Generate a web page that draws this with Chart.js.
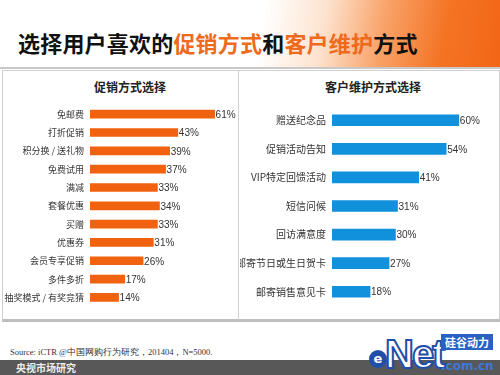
<!DOCTYPE html>
<html>
<head>
<meta charset="utf-8">
<script src="https://cdn.jsdelivr.net/npm/chart.js@4.4.1/dist/chart.umd.min.js"></script>
<style>
    body { margin: 0; width: 500px; height: 375px; position: relative; overflow: hidden; background: #fff;
           font-family: "Noto Sans CJK SC", "Noto Sans", sans-serif; }
    #header { position: absolute; left: 0; top: 0; width: 500px; height: 67px;
              background: linear-gradient(100deg, #fff 52%, #fde3cf 64%, #f9a267 76%, #f47424 88%, #f26616 100%); }
    #headline { position: absolute; left: 18px; top: 27px; font-size: 22px; font-weight: bold; color: #111;
                font-family: "Noto Sans CJK SC", serif; letter-spacing: 0.2px; line-height: 30px; }
    #headline span { color: #ee6a1c; }
    #rule { position: absolute; left: 0; top: 67px; width: 500px; height: 2px; background: #c8c8c8; }
    #frame { position: absolute; left: 2px; top: 70px; width: 496px; height: 248px;
             border: 1px solid #d0d0d0; border-bottom: 3px solid #bdbdbd; }
    #divider { position: absolute; left: 238px; top: 70px; width: 1px; height: 250px; background: #d0d0d0; z-index: 2; }
    .ptitle { position: absolute; top: 78px; font-size: 12px; font-weight: bold; color: #222; transform: translateX(-50%); }
    .box { position: absolute; }
    #source { position: absolute; left: 10px; top: 347px; font-size: 8.5px; color: #333; font-family: "Liberation Serif", serif; }
    #footer { position: absolute; left: 0; top: 360px; width: 500px; height: 15px; background: #585858; }
    #brand { position: absolute; left: 16px; top: 360px; font-size: 10px; font-weight: bold; color: #eee; line-height: 15px; }
    #logo-e { position: absolute; left: 369px; top: 350px; width: 18px; height: 18px; border-radius: 50%;
              background: #1f4fa8; color: #fff; font: bold 13px/18px "DejaVu Sans", sans-serif; text-align: center; }
    #logo-net { position: absolute; left: 385px; top: 331px; font: bold 40px/46px "Liberation Sans", sans-serif; color: #fff;
                -webkit-text-stroke: 2px #1f4fa8; letter-spacing: -2px; }
    #logo-cn { position: absolute; left: 441px; top: 334px; width: 52px; height: 16px; background: #2a62c4; color: #fff;
               font-size: 11px; font-weight: bold; line-height: 16px; text-align: center; }
    #logo-com { position: absolute; left: 441px; top: 358px; font: bold 12px/16px "DejaVu Sans", sans-serif; color: #3b78d8; }
</style>
</head>
<body>
<div id="header"></div>
<div id="headline">选择用户喜欢的<span>促销方式</span>和<span>客户维护</span>方式</div>
<div id="rule"></div>
<div id="frame"></div>
<div id="divider"></div>
<div class="ptitle" style="left:130px">促销方式选择</div>
<div class="ptitle" style="left:373px">客户维护方式选择</div>
<div class="box" style="left:0px; top:72px; width:238px; height:246px;"><canvas id="promoChart"></canvas></div>
<div class="box" style="left:240px; top:72px; width:258px; height:246px;"><canvas id="careChart"></canvas></div>
<div id="source">Source: iCTR @中国网购行为研究，201404，N=5000.</div>
<div id="footer"></div>
<div id="brand">央视市场研究</div>
<div id="logo-e">e</div>
<div id="logo-net">Net</div>
<div id="logo-cn">硅谷动力</div>
<div id="logo-com">.com.cn</div>

<script>
const promoLabels = ['免邮费', '打折促销', '积分换 / 送礼物', '免费试用', '满减', '套餐优惠', '买赠', '优惠券', '会员专享促销', '多件多折', '抽奖模式 / 有奖竞猜'];
const promoValues = [61, 43, 39, 37, 33, 34, 33, 31, 26, 17, 14];

const careLabels = ['赠送纪念品', '促销活动告知', 'VIP特定回馈活动', '短信问候', '回访满意度', '邮寄节日或生日贺卡', '邮寄销售意见卡'];
const careValues = [60, 54, 41, 31, 30, 27, 18];

// draws "61%" just past the end of each bar
const valueLabels = {
    id: 'valueLabels',
    afterDatasetsDraw(chart) {
        const ctx = chart.ctx;
        const meta = chart.getDatasetMeta(0);
        ctx.save();
        ctx.font = '10px "Liberation Sans Narrow", "Liberation Sans", sans-serif';
        ctx.fillStyle = '#333';
        ctx.textBaseline = 'middle';
        meta.data.forEach((bar, i) => {
            ctx.fillText(chart.data.datasets[0].data[i] + '%', bar.x + 1, bar.y + 1);
        });
        ctx.restore();
    }
};

function makeChart(id, labels, values, color, thickness, axisWidth, fontSize, pad) {
    const ctx = document.getElementById(id).getContext('2d');
    return new Chart(ctx, {
        type: 'bar',
        data: {
            labels: labels,
            datasets: [{ data: values, backgroundColor: color, barThickness: thickness }]
        },
        options: {
            indexAxis: 'y',
            responsive: true,
            maintainAspectRatio: false,
            animation: false,
            layout: { padding: pad },
            plugins: { legend: { display: false }, tooltip: { enabled: false } },
            scales: {
                x: { display: false, min: 0, max: 70 },
                y: {
                    grid: { display: false, drawTicks: false },
                    border: { display: false },
                    ticks: { color: '#333', padding: 6, font: { size: fontSize, family: '"Noto Sans CJK SC", sans-serif' } },
                    afterFit(scale) { scale.width = axisWidth; }
                }
            }
        },
        plugins: [valueLabels]
    });
}

makeChart('promoChart', promoLabels, promoValues, '#f0620f', 8, 90, 9, { top: 33, bottom: 6, right: 5 });
makeChart('careChart', careLabels, careValues, '#1190dc', 11, 92, 10, { top: 34, bottom: 8, right: 18 });
</script>
</body>
</html>
